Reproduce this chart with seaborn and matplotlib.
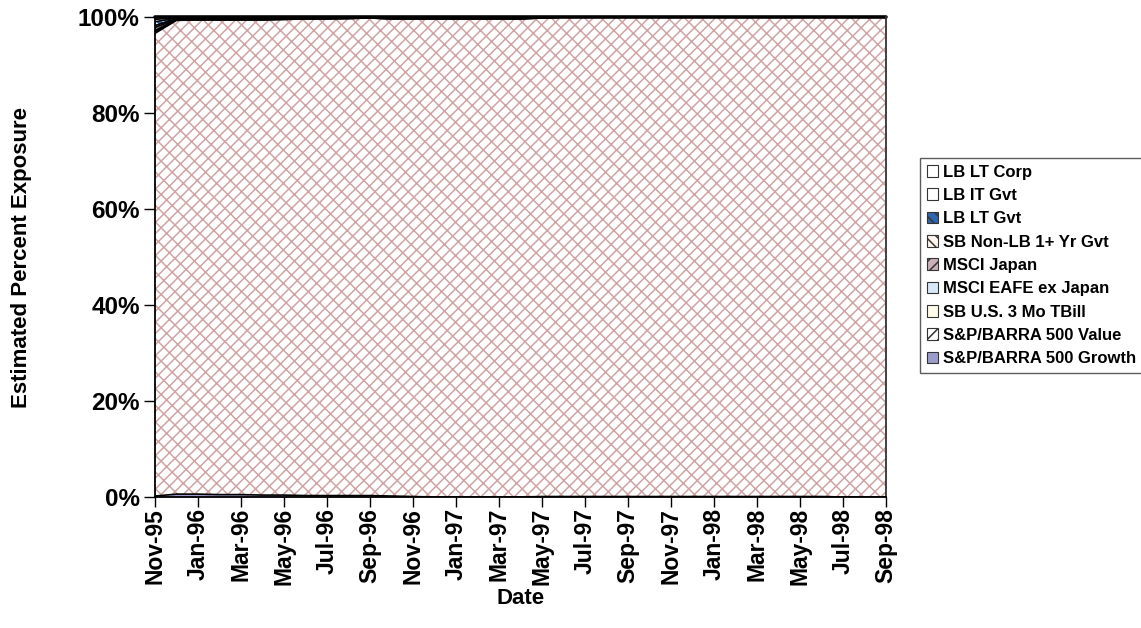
import numpy as np
import pandas as pd
import matplotlib
matplotlib.use("Agg")
import matplotlib.pyplot as plt
from matplotlib.patches import Patch
import seaborn as sns

# Monthly style exposures, Nov-95 .. Sep-98 (percent of portfolio)
months = ["Nov-95", "Dec-95", "Jan-96", "Feb-96", "Mar-96", "Apr-96", "May-96", "Jun-96",
          "Jul-96", "Aug-96", "Sep-96", "Oct-96", "Nov-96", "Dec-96", "Jan-97", "Feb-97",
          "Mar-97", "Apr-97", "May-97", "Jun-97", "Jul-97", "Aug-97", "Sep-97", "Oct-97",
          "Nov-97", "Dec-97", "Jan-98", "Feb-98", "Mar-98", "Apr-98", "May-98", "Jun-98",
          "Jul-98", "Aug-98", "Sep-98"]

sp_growth = [0.2, 0.6, 0.6, 0.5, 0.5, 0.4, 0.4, 0.3, 0.3, 0.3, 0.3, 0.2, 0.1, 0.0, 0.0, 0.0,
             0.0, 0.0, 0.1, 0.1, 0.1, 0.1, 0.1, 0.1, 0.1, 0.1, 0.1, 0.1, 0.1, 0.1, 0.1, 0.1,
             0.0, 0.0, 0.0]
sb_tbill = [0.3, 0.1, 0.0, 0.0, 0.0, 0.0, 0.0, 0.0, 0.0, 0.0, 0.0, 0.0, 0.0, 0.0, 0.0, 0.0,
            0.0, 0.0, 0.0, 0.0, 0.0, 0.0, 0.0, 0.0, 0.0, 0.0, 0.0, 0.0, 0.0, 0.0, 0.0, 0.0,
            0.0, 0.0, 0.0]
msci_eafe = [0.3, 0.1, 0.1, 0.1, 0.1, 0.1, 0.1, 0.1, 0.1, 0.0, 0.0, 0.1, 0.1, 0.1, 0.1, 0.1,
             0.1, 0.1, 0.0, 0.0, 0.0, 0.0, 0.0, 0.0, 0.0, 0.0, 0.0, 0.0, 0.0, 0.0, 0.0, 0.0,
             0.0, 0.0, 0.0]
msci_japan = [0.6, 0.1, 0.1, 0.1, 0.1, 0.1, 0.1, 0.1, 0.1, 0.1, 0.1, 0.1, 0.1, 0.1, 0.1, 0.1,
              0.1, 0.1, 0.1, 0.0, 0.0, 0.0, 0.0, 0.0, 0.0, 0.0, 0.0, 0.0, 0.0, 0.0, 0.0, 0.0,
              0.0, 0.0, 0.0]
sb_nonlb = [0.4, 0.1, 0.1, 0.1, 0.1, 0.1, 0.1, 0.0, 0.0, 0.0, 0.0, 0.0, 0.0, 0.0, 0.0, 0.0,
            0.0, 0.0, 0.0, 0.0, 0.0, 0.0, 0.0, 0.0, 0.0, 0.0, 0.0, 0.0, 0.0, 0.0, 0.0, 0.0,
            0.0, 0.0, 0.0]
lb_lt_gvt = [0.8, 0.1, 0.1, 0.1, 0.1, 0.1, 0.1, 0.1, 0.1, 0.1, 0.0, 0.1, 0.1, 0.1, 0.1, 0.1,
             0.1, 0.1, 0.1, 0.0, 0.0, 0.0, 0.0, 0.0, 0.0, 0.0, 0.0, 0.0, 0.0, 0.0, 0.0, 0.0,
             0.0, 0.0, 0.0]
lb_it_gvt = [0.5, 0.1, 0.1, 0.1, 0.1, 0.1, 0.0, 0.0, 0.0, 0.0, 0.0, 0.0, 0.0, 0.0, 0.0, 0.0,
             0.0, 0.0, 0.0, 0.0, 0.0, 0.0, 0.0, 0.0, 0.0, 0.0, 0.0, 0.0, 0.0, 0.0, 0.0, 0.0,
             0.0, 0.0, 0.0]
lb_lt_corp = [0.5, 0.1, 0.1, 0.1, 0.1, 0.1, 0.1, 0.1, 0.1, 0.1, 0.1, 0.1, 0.1, 0.1, 0.1, 0.1,
              0.1, 0.1, 0.0, 0.0, 0.0, 0.0, 0.0, 0.0, 0.0, 0.0, 0.0, 0.0, 0.0, 0.0, 0.0, 0.0,
              0.0, 0.0, 0.0]

# Value style takes up the remainder of the portfolio
others = np.array([sp_growth, sb_tbill, msci_eafe, msci_japan, sb_nonlb,
                   lb_lt_gvt, lb_it_gvt, lb_lt_corp]).sum(axis=0)
sp_value = list(np.round(100.0 - others, 2))

# Bottom-to-top stacking order
series_names = ["S&P/BARRA 500 Growth", "S&P/BARRA 500 Value", "SB U.S. 3 Mo TBill",
                "MSCI EAFE ex Japan", "MSCI Japan", "SB Non-LB 1+ Yr Gvt",
                "LB LT Gvt", "LB IT Gvt", "LB LT Corp"]
series_values = [sp_growth, sp_value, sb_tbill, msci_eafe, msci_japan, sb_nonlb,
                 lb_lt_gvt, lb_it_gvt, lb_lt_corp]

# face colour, hatch, hatch colour
styles = {
    "S&P/BARRA 500 Growth": ("#9c9ccc", None, None),
    "S&P/BARRA 500 Value": ("white", "///" + "\\" * 2, "#d0a4a4"),
    "SB U.S. 3 Mo TBill": ("#fffbea", None, None),
    "MSCI EAFE ex Japan": ("#d6e8f8", None, None),
    "MSCI Japan": ("#c9b0b8", "////", "#6e3c4c"),
    "SB Non-LB 1+ Yr Gvt": ("#fff4ee", "\\\\\\\\", "#f0a07a"),
    "LB LT Gvt": ("#2e64b0", "\\\\\\\\", "#ffffff"),
    "LB IT Gvt": ("white", None, None),
    "LB LT Corp": ("white", None, None),
}

sns.set_theme(style="white")
plt.rcParams["font.family"] = ["Liberation Sans", "DejaVu Sans"]
plt.rcParams["hatch.linewidth"] = 1.1
plt.rcParams["text.color"] = "black"
plt.rcParams["axes.labelcolor"] = "black"
plt.rcParams["xtick.color"] = "black"
plt.rcParams["ytick.color"] = "black"

fig = plt.figure(figsize=(11.41, 6.28), dpi=100)
ax = fig.add_axes([0.1358, 0.2086, 0.6407, 0.7643])

x = np.arange(len(months))
df = pd.DataFrame({n: v for n, v in zip(series_names, series_values)})
cum = df[series_names].cumsum(axis=1)

lower = np.zeros(len(x))
for name in series_names:
    upper = cum[name].to_numpy()
    face, hatch, hcol = styles[name]
    if hatch:
        ax.fill_between(x, lower, upper, facecolor=face, hatch=hatch,
                        edgecolor=hcol, linewidth=0)
    else:
        ax.fill_between(x, lower, upper, facecolor=face, linewidth=0)
    lower = upper

# Series boundary lines; the top of the stack gets a heavy outline
for name in series_names:
    top = name == "LB LT Corp"
    sns.lineplot(x=x, y=cum[name].to_numpy(), ax=ax, color="black",
                 linewidth=2.6 if top else 1.2, legend=False, clip_on=not top)

ax.set_xlim(0, len(months) - 1)
ax.set_ylim(0, 100)

ax.set_xticks(x[::2])
ax.set_xticklabels(months[::2], rotation=90, fontsize=16.5, fontweight="bold")
ax.set_yticks([0, 20, 40, 60, 80, 100])
ax.set_yticklabels(["0%", "20%", "40%", "60%", "80%", "100%"],
                   fontsize=17.5, fontweight="bold")
ax.tick_params(axis="both", which="both", direction="out", width=1,
               color="black", bottom=True, left=True)
ax.tick_params(axis="x", length=7, pad=1)
ax.tick_params(axis="y", length=8, pad=3)

ax.set_xlabel("Date", fontsize=16, fontweight="bold", labelpad=2)
ax.set_ylabel("Estimated Percent Exposure", fontsize=16, fontweight="bold", labelpad=33)

ax.spines["top"].set_visible(False)
ax.spines["left"].set_color("black")
ax.spines["bottom"].set_color("black")
ax.spines["right"].set_color("#333333")
for s in ax.spines.values():
    s.set_linewidth(1.3)

# Legend lists the top of the stack first
legend_order = list(reversed(series_names))
handles = []
for name in legend_order:
    face, hatch, hcol = styles[name]
    handles.append(Patch(facecolor=face, hatch=(hatch[:3] if hatch else None),
                         edgecolor="#333333", linewidth=0.8))
leg = fig.legend(handles, legend_order, loc="upper left",
                 bbox_to_anchor=(920 / 1141, 1 - 158 / 628),
                 prop={"weight": "bold", "size": 12, "family": "Liberation Sans"},
                 frameon=True, fancybox=False, edgecolor="#333333",
                 handlelength=0.7, handleheight=0.7, handletextpad=0.3,
                 labelspacing=0.5, borderpad=0.4, borderaxespad=0)
leg.get_frame().set_linewidth(1.0)

fig.savefig("out.png", dpi=100)
